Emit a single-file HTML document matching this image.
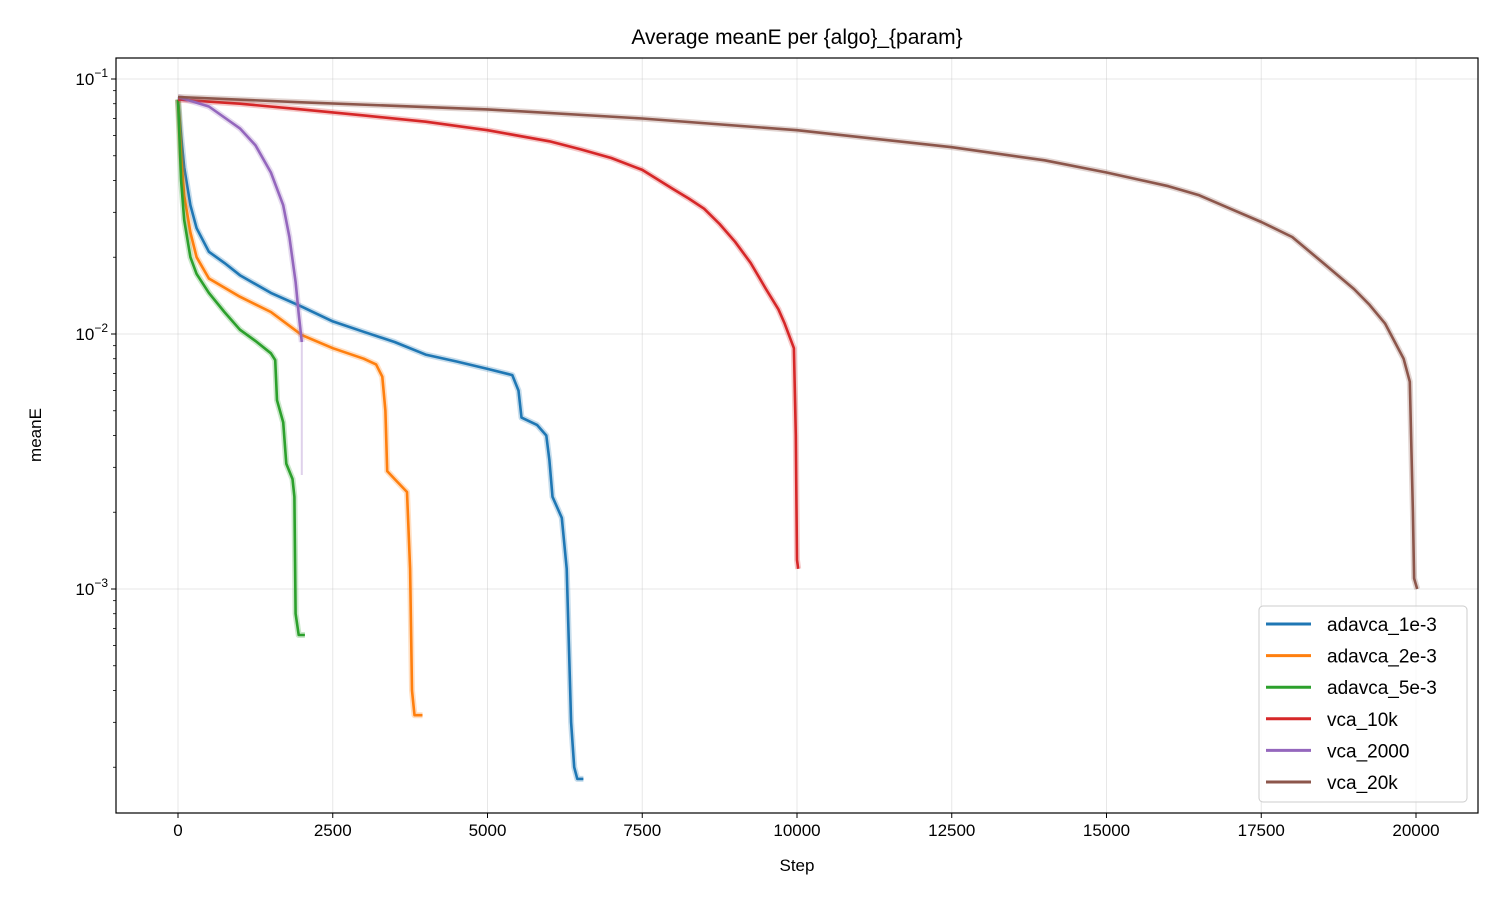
<!DOCTYPE html>
<html><head><meta charset="utf-8"><style>body{margin:0;background:#fff}svg{display:block;font-family:"Liberation Sans","DejaVu Sans",sans-serif}</style></head>
<body>
<svg id="chart" width="1500" height="900" viewBox="0 0 1500 900">
<rect width="1500" height="900" fill="#fff"/>
<g id="grid"></g><g id="series"></g><g id="axes"></g><g id="legend"></g>
</svg>
<script>
const seriesNames=["adavca_1e-3","adavca_2e-3","adavca_5e-3","vca_10k","vca_2000","vca_20k"];
const colors=["#1f77b4","#ff7f0e","#2ca02c","#d62728","#9467bd","#8c564b"];
const stepsBlue=[0,50,100,200,300,500,750,1000,1500,2000,2500,3000,3500,4000,4500,5000,5400,5500,5550,5800,5950,6000,6050,6200,6280,6350,6400,6450,6550];
const valsBlue=[0.083,0.06,0.045,0.032,0.026,0.021,0.019,0.017,0.0145,0.0128,0.0112,0.0102,0.0093,0.0083,0.0078,0.0073,0.0069,0.006,0.0047,0.0044,0.004,0.0032,0.0023,0.0019,0.0012,0.0003,0.0002,0.00018,0.00018];
const stepsOrange=[0,50,100,200,300,500,750,1000,1500,2000,2500,3000,3200,3300,3350,3380,3500,3700,3750,3780,3820,3950];
const valsOrange=[0.083,0.05,0.035,0.025,0.02,0.0165,0.0152,0.014,0.0122,0.0099,0.0088,0.008,0.0076,0.0068,0.005,0.0029,0.0027,0.0024,0.0012,0.0004,0.00032,0.00032];
const stepsGreen=[0,50,100,200,300,500,750,1000,1250,1500,1570,1600,1700,1750,1850,1880,1900,1950,2050];
const valsGreen=[0.083,0.04,0.028,0.02,0.0172,0.0145,0.0122,0.0104,0.0094,0.0084,0.0079,0.0055,0.0045,0.0031,0.0027,0.0023,0.0008,0.00066,0.00066];
const stepsRed=[0,1000,2000,3000,4000,5000,6000,6500,7000,7500,8000,8250,8500,8750,9000,9250,9500,9700,9800,9950,9980,10000,10020];
const valsRed=[0.083,0.08,0.076,0.072,0.068,0.063,0.057,0.053,0.049,0.044,0.037,0.034,0.031,0.027,0.023,0.019,0.015,0.0125,0.011,0.0088,0.004,0.0013,0.0012];
const stepsPurple=[0,500,1000,1250,1500,1700,1800,1900,1950,2000];
const valsPurple=[0.085,0.078,0.064,0.055,0.043,0.032,0.024,0.016,0.012,0.0093];
const stepsBrown=[0,2000,5000,7500,10000,12500,14000,15000,16000,16500,17000,17500,18000,18500,19000,19250,19500,19800,19900,19950,19970,20020];
const valsBrown=[0.085,0.081,0.076,0.07,0.063,0.054,0.048,0.043,0.038,0.035,0.031,0.0275,0.024,0.019,0.015,0.013,0.011,0.008,0.0065,0.002,0.0011,0.001];
const xTicks=[0,2500,5000,7500,10000,12500,15000,17500,20000];
const yTickExps=[-1,-2,-3];
const allSteps=[stepsBlue,stepsOrange,stepsGreen,stepsRed,stepsPurple,stepsBrown];
const allVals=[valsBlue,valsOrange,valsGreen,valsRed,valsPurple,valsBrown];

const L=116,R=1478,T=58,B=813;
const X=s=>178+(s)*(1238/20000);
const Y=v=>79-(Math.log10(v)+1)*255;
const NS="http://www.w3.org/2000/svg";
function mk(tag,attrs,parent,text){const e=document.createElementNS(NS,tag);for(const k in attrs)e.setAttribute(k,attrs[k]);if(text!==undefined)e.textContent=text;parent.appendChild(e);return e;}
const grid=document.getElementById('grid'),ser=document.getElementById('series'),axes=document.getElementById('axes'),leg=document.getElementById('legend');
xTicks.forEach(t=>{
 const g=mk('line',{x1:X(t),x2:X(t),y1:T,y2:B,stroke:'#b0b0b0','stroke-opacity':0.3,'stroke-width':1},grid);
 
 
 mk('line',{x1:X(t),x2:X(t),y1:B,y2:B+5,stroke:'#000'},axes);
 const tx=mk('text',{x:X(t),y:B+23,'text-anchor':'middle','font-size':17},axes,String(t));
 
 
});
yTickExps.forEach(e=>{
 const y=Y(Math.pow(10,e));
 const g=mk('line',{x1:L,x2:R,y1:y,y2:y,stroke:'#b0b0b0','stroke-opacity':0.3,'stroke-width':1},grid);
 
 
 mk('line',{x1:L-5,x2:L,y1:y,y2:y,stroke:'#000'},axes);
 const tx=mk('text',{x:L-8,y:y+6,'text-anchor':'end','font-size':17},axes);
 
 
 tx.appendChild(document.createTextNode('10'));
 mk('tspan',{dy:-8,'font-size':12},tx,'−'+(-e));
});
for(let e=-4;e<=-1;e++)for(let m=2;m<=9;m++){const v=m*Math.pow(10,e);const y=Y(v);if(y>T&&y<B)mk('line',{x1:L-3,x2:L,y1:y,y2:y,stroke:'#000','stroke-width':0.8},axes);}
allSteps.forEach((st,i)=>{
 const d=st.map((s,j)=>(j?'L':'M')+X(s).toFixed(1)+','+Y(allVals[i][j]).toFixed(1)).join(' ');
 const f=mk('path',{d:d,fill:'none',stroke:colors[i],'stroke-opacity':0.25,'stroke-width':6,'stroke-linejoin':'round'},ser);
 
 
 const p=mk('path',{d:d,fill:'none',stroke:colors[i],'stroke-width':2.6,'stroke-linejoin':'round'},ser);
 
 
});
const tail=mk('line',{x1:X(2000),x2:X(2000),y1:Y(0.0093),y2:Y(0.0028),stroke:colors[4],'stroke-opacity':0.3,'stroke-width':2},ser);


const fr=mk('rect',{x:L,y:T,width:R-L,height:B-T,fill:'none',stroke:'#000','stroke-width':1.2},axes);


const ti=mk('text',{x:797,y:44,'text-anchor':'middle','font-size':21},axes,'Average meanE per {algo}_{param}');


const xl=mk('text',{x:797,y:871,'text-anchor':'middle','font-size':17},axes,'Step');


const yl=mk('text',{x:0,y:0,'text-anchor':'middle','font-size':17,transform:'translate(41,435) rotate(-90)'},axes,'meanE');


const lb=mk('rect',{x:1259,y:606,width:208,height:196,rx:4,fill:'#fff','fill-opacity':0.8,stroke:'#ccc'},leg);


seriesNames.forEach((n,i)=>{
 const y=624+i*31.6;
 const g=mk('g',{},leg);
 
 
 mk('line',{x1:1266,x2:1311,y1:y,y2:y,stroke:colors[i],'stroke-width':3},g);
 mk('text',{x:1327,y:y+7,'font-size':19},g,n);
});
</script>
</body></html>
